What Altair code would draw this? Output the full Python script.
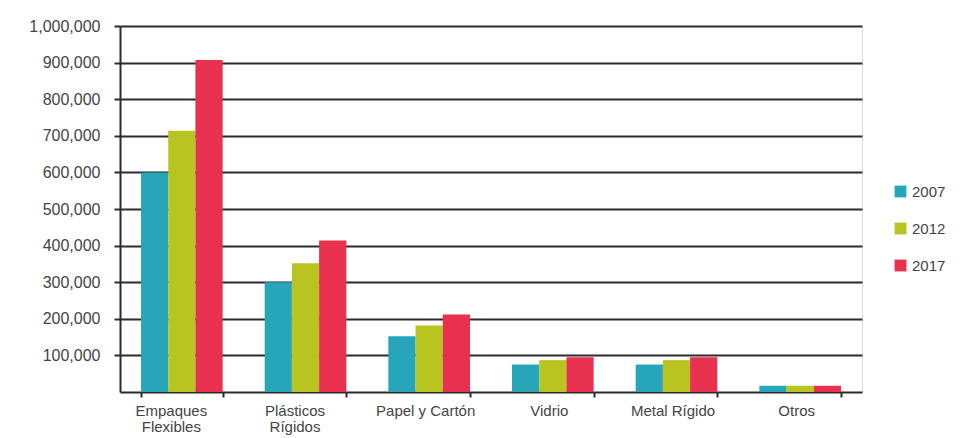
import altair as alt
import pandas as pd

categories = ["Empaques Flexibles", "Plásticos Rígidos", "Papel y Cartón", "Vidrio", "Metal Rígido", "Otros"]
years = ["2007", "2012", "2017"]
v2007 = [600000, 300000, 152000, 75000, 75000, 17000]
v2012 = [714000, 352000, 182000, 87000, 87000, 17000]
v2017 = [907000, 414000, 212000, 95000, 95000, 17000]
colors = ["#28a6b9", "#b8c41f", "#e8304f"]
y_ticks = [100000, 200000, 300000, 400000, 500000, 600000, 700000, 800000, 900000, 1000000]

rows = []
for i, c in enumerate(categories):
    for y, vals in zip(years, [v2007, v2012, v2017]):
        rows.append({"cat": c, "year": y, "value": vals[i]})
df = pd.DataFrame(rows)

FONT = "Liberation Sans"
DARK = "#2b2b2b"
MULTI = "indexof(['Empaques Flexibles','Plásticos Rígidos'], datum.label) >= 0"

chart = alt.Chart(df).mark_bar().encode(
    x=alt.X("cat:N", sort=categories, title=None,
            scale=alt.Scale(paddingInner=0.34, paddingOuter=0.17),
            axis=alt.Axis(labelAngle=0, tickBand="extent", tickSize=5, tickWidth=2,
                          tickColor=DARK, domainColor=DARK, domainWidth=2,
                          labelFont=FONT, labelFontSize=15, labelColor="#444444",
                          labelPadding=6, labelLineHeight=16,
                          labelOffset={"condition": {"test": MULTI, "value": -11}, "value": -4},
                          labelExpr=MULTI + " ? split(datum.label, ' ') : datum.label")),
    xOffset=alt.XOffset("year:N", sort=years),
    y=alt.Y("value:Q", title=None,
            scale=alt.Scale(domain=[0, 1000000], nice=False),
            axis=alt.Axis(values=y_ticks, format=",d", grid=True, gridColor=DARK, gridWidth=2,
                          tickSize=6, tickWidth=2, tickColor=DARK,
                          domainColor=DARK, domainWidth=2,
                          labelFont=FONT, labelFontSize=16, labelColor="#444444",
                          labelPadding=14)),
    color=alt.Color("year:N", sort=years, title=None,
                    scale=alt.Scale(domain=years, range=colors),
                    legend=alt.Legend(orient="none", legendX=773, legendY=158,
                                      symbolType="square", symbolSize=140, symbolStrokeWidth=0,
                                      symbolOpacity=1,
                                      labelFont=FONT, labelFontSize=15, labelColor="#444444",
                                      rowPadding=21, labelOffset=4)),
).properties(
    width=742, height=366,
    autosize=alt.AutoSizeParams(type="none"),
    padding={"left": 120, "top": 26, "right": 109, "bottom": 46},
).configure_view(stroke=None).configure(background="white")

chart.save("out.html", embed_options={"renderer": "svg", "actions": False})
